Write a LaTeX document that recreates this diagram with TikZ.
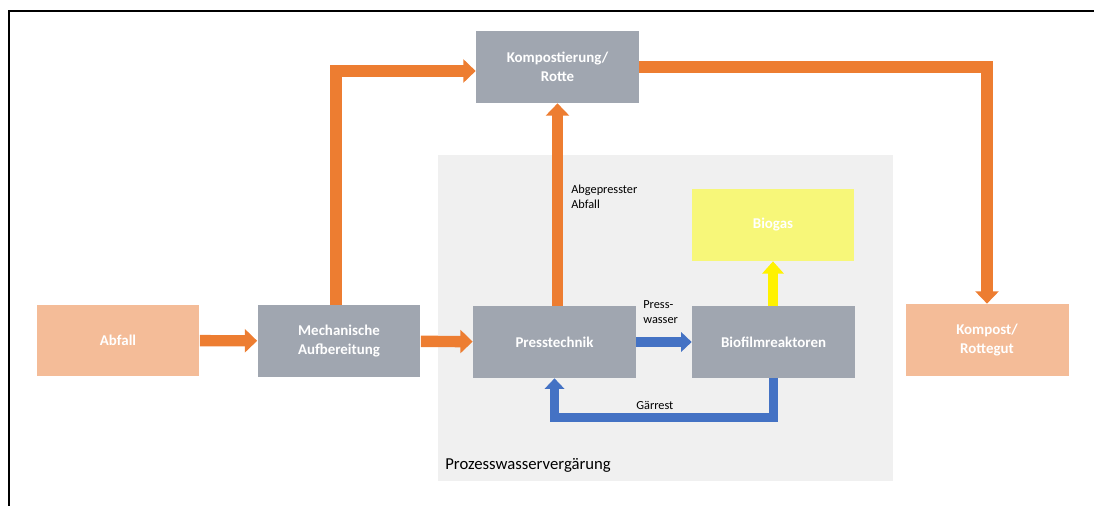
\documentclass[tikz,border=0pt]{standalone}
\usepackage{fontspec}
\setmainfont{Carlito}
\usetikzlibrary{arrows.meta}
\definecolor{boxgrey}{HTML}{A0A6B0}
\definecolor{peach}{HTML}{F4BC98}
\definecolor{flow}{HTML}{ED7D31}
\definecolor{water}{HTML}{4472C4}
\definecolor{gasbox}{HTML}{F7F779}
\definecolor{zone}{HTML}{F0F0F0}
\begin{document}
\begin{tikzpicture}[x=0.02cm, y=-0.02cm,
    stage/.style={minimum width=3.26cm, minimum height=1.44cm, align=center, text=white, font=\fontsize{8.5}{11}\selectfont\bfseries, inner sep=0pt},
    label/.style={font=\fontsize{7}{8.5}\selectfont, align=left, anchor=west, inner sep=0pt},
    oarrow/.style={-{Triangle[width=13pt,length=7pt]}, line width=6.5pt, color=flow},
    barrow/.style={-{Triangle[width=11pt,length=6pt]}, line width=5.5pt, color=water}
]
\useasboundingbox (0,0) rectangle (1094,506);
\draw[line width=1.1pt] (9,506) -- (9,11) -- (1094,11);

% Prozesswasser zone
\node[fill=zone, minimum width=9.1cm, minimum height=6.52cm, inner sep=0pt] (zone) at (665.5,318) {};
\node[label, font=\fontsize{9.5}{11}\selectfont] (zonelabel) at (445,465) {Prozesswasservergärung};

\node[stage, fill=boxgrey] (komp) at (557.5,67) {Kompostierung/\\Rotte};
\node[stage, fill=peach] (abfall) at (118,340.5) {Abfall};
\node[stage, fill=boxgrey] (mech) at (339,341) {Mechanische\\Aufbereitung};
\node[stage, fill=boxgrey] (press) at (554.5,342) {Presstechnik};
\node[stage, fill=boxgrey] (bio) at (773.5,342) {Biofilmreaktoren};
\node[stage, fill=gasbox] (biogas) at (773,225) {Biogas};
\node[stage, fill=peach] (kompost) at (987,340) {Kompost/\\Rottegut};

\draw[oarrow] (abfall) -- (mech);
\draw[oarrow] (mech) -- (press);
\draw[oarrow] ([xshift=-0.06cm]mech.north) |- ([yshift=-0.08cm]komp.west);
\draw[oarrow] (komp.east) -| (kompost.north);
\draw[oarrow] (press.north -| komp.south) -- (komp.south);
\draw[barrow] (press) -- (bio);
\draw[barrow] (bio.south) -- ++(0,39) -| (press.south);
\draw[-{Triangle[width=12pt,length=7pt]}, line width=6pt, color=yellow] (bio.north -| biogas.south) -- (biogas.south);

\node[label] (abgepresst) at (571,197) {Abgepresster\\Abfall};
\node[label] (presswasser) at (643,312) {Press-\\wasser};
\node[label] (gaerrest) at (636,405) {Gärrest};
\end{tikzpicture}
\end{document}
